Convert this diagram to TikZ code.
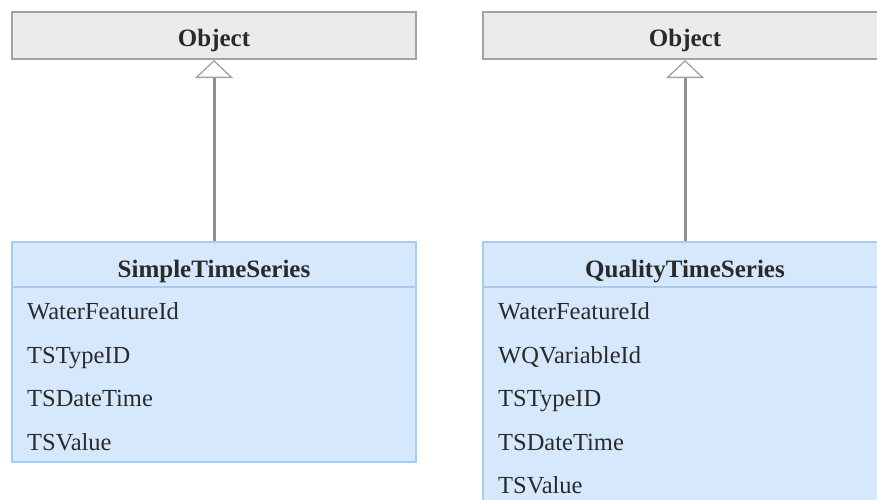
\documentclass[tikz,border=0pt]{standalone}
\usepackage{fontspec}
\setmainfont{Liberation Serif}
\usetikzlibrary{arrows.meta}
\definecolor{objfill}{HTML}{EBEBEB}
\definecolor{objdraw}{HTML}{A3A3A3}
\definecolor{clsfill}{HTML}{D6E8FC}
\definecolor{clsdraw}{HTML}{A6CCF2}
\definecolor{txt}{HTML}{2A2A2A}
\definecolor{conn}{HTML}{8E8E8E}
\tikzset{
  objbox/.style={draw=objdraw, fill=objfill, line width=2pt, minimum width=404pt, minimum height=47pt, inner sep=0pt},
  clsbox/.style={draw=clsdraw, fill=clsfill, line width=2pt, minimum width=404pt, inner sep=0pt, anchor=north},
  hdr/.style={font=\fontsize{25}{28}\selectfont\bfseries, text=txt, anchor=base, inner sep=0pt},
  attr/.style={font=\fontsize{24.5}{28}\selectfont, text=txt, anchor=base west, inner sep=0pt},
  inherit/.style={draw=conn, line width=3pt, -{Triangle[open, length=18pt, width=38pt, line width=1.3pt, fill=white, color=objdraw]}},
}
\begin{document}
\begin{tikzpicture}[x=1pt,y=-1pt]
\useasboundingbox (0,0) rectangle (877,499);
\clip (0,0) rectangle (877,499);
% left column
\node[objbox] (obj1) at (214,35.5) {};
\node[hdr] (obj1txt) at (214,46) {Object};
\node[clsbox, minimum height=220pt] (simple) at (214,241) {};
\coordinate (sepL1) at (12,287);
\coordinate (sepL2) at (416,287);
\draw[draw=clsdraw, line width=2pt] (sepL1) -- (sepL2);
\node[hdr] (simplehdr) at (214,277) {SimpleTimeSeries};
\node[attr] (s1) at (27,319.5) {WaterFeatureId};
\node[attr] (s2) at (27,363) {TSTypeID};
\node[attr] (s3) at (27,406.5) {TSDateTime};
\node[attr] (s4) at (27,450) {TSValue};
\draw[inherit] (simple.north) -- (obj1.south);
% right column
\node[objbox] (obj2) at (685,35.5) {};
\node[hdr] (obj2txt) at (685,46) {Object};
\node[clsbox, minimum height=270pt] (quality) at (685,241) {};
\coordinate (sepR1) at (483,287);
\coordinate (sepR2) at (887,287);
\draw[draw=clsdraw, line width=2pt] (sepR1) -- (sepR2);
\node[hdr] (qualityhdr) at (685,277) {QualityTimeSeries};
\node[attr] (q1) at (498,319.5) {WaterFeatureId};
\node[attr] (q2) at (498,363) {WQVariableId};
\node[attr] (q3) at (498,406.5) {TSTypeID};
\node[attr] (q4) at (498,450) {TSDateTime};
\node[attr] (q5) at (498,493.5) {TSValue};
\draw[inherit] (quality.north) -- (obj2.south);
\end{tikzpicture}
\end{document}
